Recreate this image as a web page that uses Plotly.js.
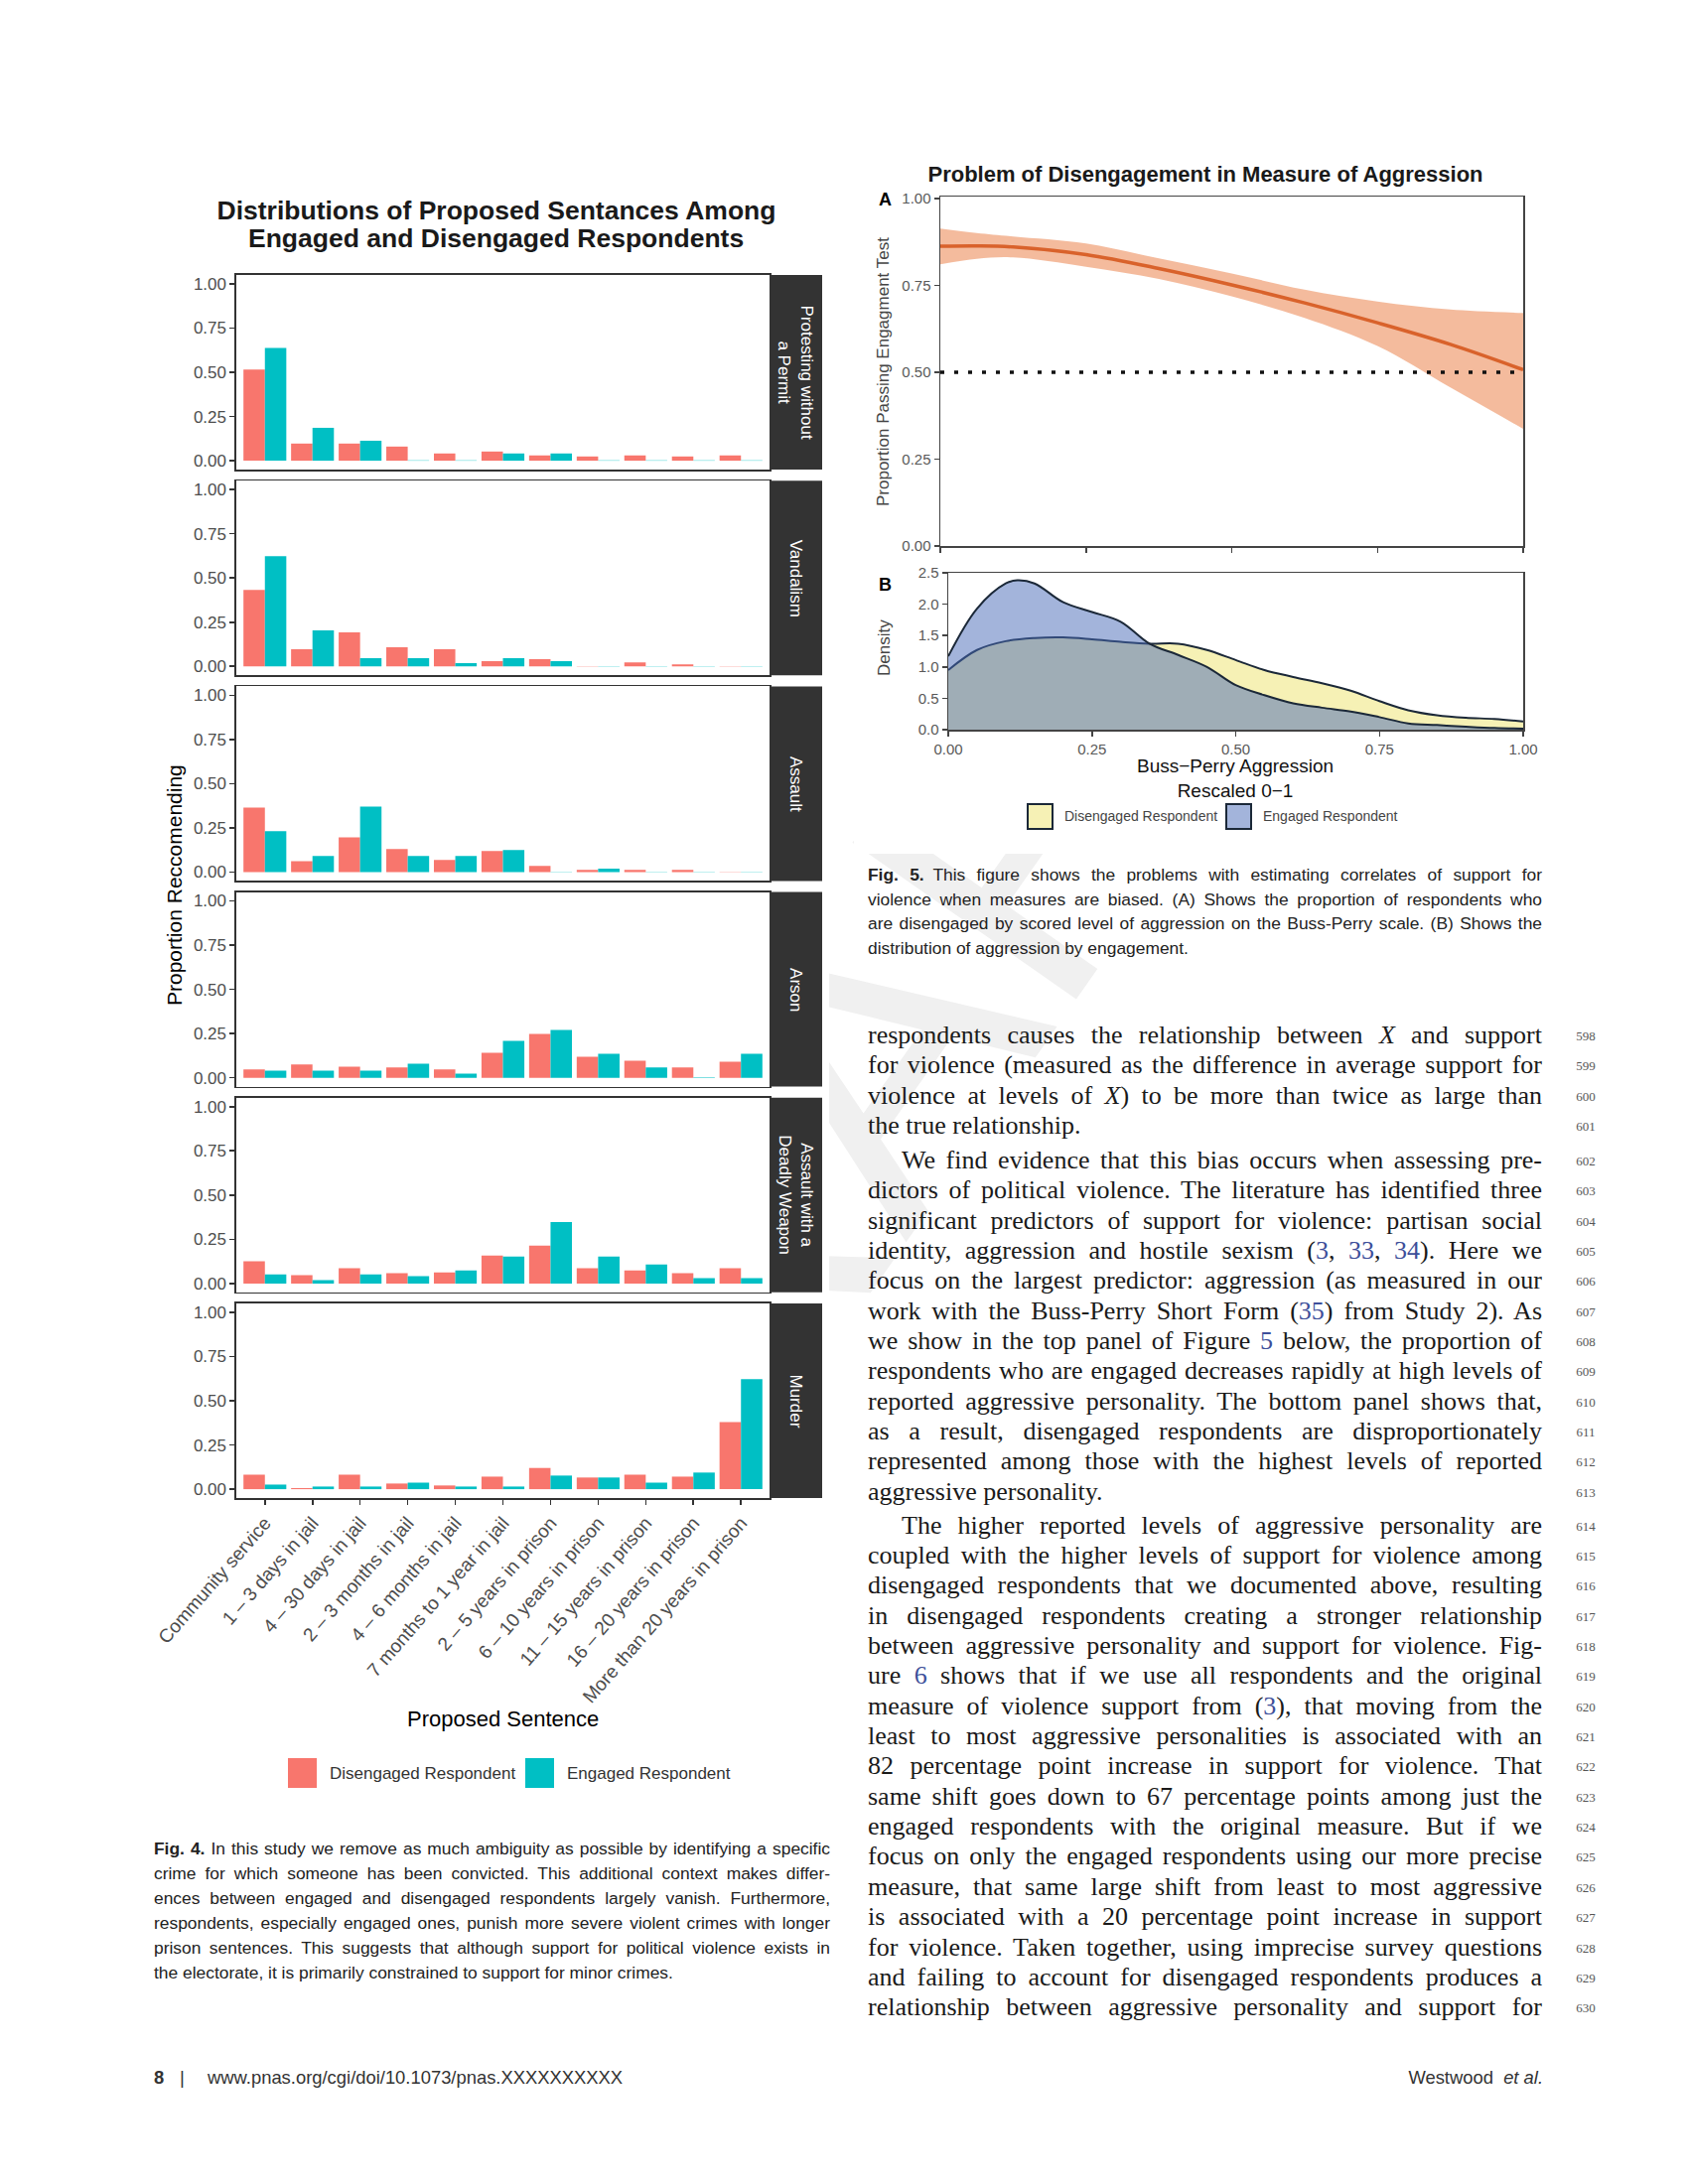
<!DOCTYPE html>
<html>
<head>
<meta charset="utf-8">
<script src="https://cdn.plot.ly/plotly-3.0.1.min.js"></script>
<style>
  body { margin: 0; background: #fff; }
  #page { position: relative; width: 1700px; height: 2200px; background: #fff; overflow: hidden; font-family: 'Liberation Sans', Arial, sans-serif; }
  #wm { position: absolute; left: 850px; top: 1100px; transform: translate(-50%, -50%) rotate(-55deg); font: normal 400px 'Liberation Sans', Arial, sans-serif; color: #f0f0f0; white-space: nowrap; z-index: 0; }
  #fig4 { position: absolute; left: 0; top: 0; width: 835px; height: 1830px; z-index: 1; }
  #fig5 { position: absolute; left: 860px; top: 140px; width: 740px; height: 720px; z-index: 1; }
  .ln { position: absolute; white-space: nowrap; z-index: 2; }
  .ln > span { display: inline-block; white-space: nowrap; }
  .body { font-family: 'Liberation Serif', 'Times New Roman', serif; font-size: 26px; color: #1a1a1a; }
  .cap { font-family: 'Liberation Sans', Arial, sans-serif; font-size: 17.4px; color: #222; }
  .num { font-family: 'Liberation Serif', serif; font-size: 13px; color: #555; text-align: center; width: 40px; }
  .ref { color: #3d4f9a; }
  .foot { font-family: 'Liberation Sans', Arial, sans-serif; font-size: 18.4px; color: #333; }
</style>
</head>
<body>
<div id="page">
  <div id="wm">DRAFT</div>
  <div id="fig4"></div>
  <div id="fig5"></div>
</div>
<script>
// ---------------- DATA: Fig. 4 ----------------
const categories = ["Community service", "1 \u2013 3 days in jail", "4 \u2013 30 days in jail", "2 \u2013 3 months in jail",
  "4 \u2013 6 months in jail", "7 months to 1 year in jail", "2 \u2013 5 years in prison", "6 \u2013 10 years in prison",
  "11 \u2013 15 years in prison", "16 \u2013 20 years in prison", "More than 20 years in prison"];
const crimeLabels = ["Protesting without<br>a Permit", "Vandalism", "Assault", "Arson", "Assault with a<br>Deadly Weapon", "Murder"];
const protestDis = [0.515, 0.097, 0.097, 0.080, 0.041, 0.052, 0.030, 0.024, 0.030, 0.024, 0.030];
const protestEng = [0.638, 0.186, 0.113, 0.002, 0.002, 0.041, 0.041, 0.002, 0.002, 0.002, 0.002];
const vandalDis  = [0.433, 0.097, 0.192, 0.108, 0.097, 0.030, 0.041, 0.002, 0.022, 0.011, 0.002];
const vandalEng  = [0.623, 0.203, 0.047, 0.047, 0.019, 0.047, 0.030, 0.002, 0.002, 0.002, 0.002];
const assaultDis = [0.365, 0.061, 0.197, 0.130, 0.069, 0.119, 0.035, 0.013, 0.013, 0.013, 0.002];
const assaultEng = [0.231, 0.091, 0.370, 0.091, 0.091, 0.125, 0.002, 0.019, 0.002, 0.002, 0.002];
const arsonDis   = [0.047, 0.075, 0.063, 0.058, 0.047, 0.142, 0.248, 0.119, 0.097, 0.058, 0.091];
const arsonEng   = [0.041, 0.041, 0.041, 0.080, 0.024, 0.209, 0.271, 0.136, 0.058, 0.002, 0.136];
const awdwDis    = [0.125, 0.047, 0.086, 0.058, 0.063, 0.158, 0.214, 0.086, 0.074, 0.058, 0.086];
const awdwEng    = [0.052, 0.019, 0.052, 0.041, 0.074, 0.153, 0.348, 0.153, 0.108, 0.030, 0.030];
const murderDis  = [0.082, 0.006, 0.082, 0.032, 0.021, 0.071, 0.120, 0.066, 0.082, 0.071, 0.380];
const murderEng  = [0.026, 0.015, 0.015, 0.037, 0.015, 0.015, 0.077, 0.066, 0.037, 0.094, 0.622];
const seriesNames = ["Disengaged Respondent", "Engaged Respondent"];
const yTicks4 = [0, 0.25, 0.5, 0.75, 1];
const yTickText4 = ["0.00", "0.25", "0.50", "0.75", "1.00"];

// ---------------- DATA: Fig. 5 ----------------
const aggrX    = [0, 0.0625, 0.125, 0.25, 0.375, 0.5, 0.625, 0.75, 0.875, 1.0];
const fitY     = [0.862, 0.863, 0.860, 0.838, 0.798, 0.751, 0.699, 0.642, 0.580, 0.507];
const upperY   = [0.913, 0.900, 0.890, 0.870, 0.827, 0.784, 0.737, 0.703, 0.680, 0.670];
const lowerY   = [0.810, 0.826, 0.830, 0.803, 0.768, 0.718, 0.656, 0.575, 0.456, 0.337];
const refLineX = [0, 1];
const refLineY = [0.5, 0.5];
const disX = [0, 0.05, 0.10, 0.15, 0.20, 0.25, 0.30, 0.35, 0.40, 0.45, 0.50, 0.55, 0.60, 0.65, 0.70, 0.75, 0.80, 0.85, 0.90, 0.95, 1.00];
const disDensity = [0.95, 1.27, 1.41, 1.46, 1.47, 1.44, 1.40, 1.37, 1.37, 1.27, 1.11, 0.95, 0.84, 0.74, 0.62, 0.455, 0.31, 0.23, 0.19, 0.17, 0.13];
const engX = [0, 0.05, 0.10, 0.12, 0.15, 0.20, 0.25, 0.30, 0.35, 0.40, 0.45, 0.50, 0.55, 0.60, 0.65, 0.70, 0.75, 0.80, 0.85, 0.90, 0.95, 1.00];
const engDensity = [1.17, 1.93, 2.33, 2.38, 2.33, 2.03, 1.875, 1.72, 1.37, 1.19, 1.00, 0.71, 0.55, 0.42, 0.35, 0.29, 0.20, 0.10, 0.074, 0.048, 0.026, 0.016];
const xTicks5 = [0, 0.25, 0.5, 0.75, 1];
const xTickText5 = ["0.00", "0.25", "0.50", "0.75", "1.00"];
const yTicksA = [0, 0.25, 0.5, 0.75, 1];
const yTickTextA = ["0.00", "0.25", "0.50", "0.75", "1.00"];
const yTicksB = [0, 0.5, 1, 1.5, 2, 2.5];
const yTickTextB = ["0.0", "0.5", "1.0", "1.5", "2.0", "2.5"];

const FONT = "'Liberation Sans', Arial, sans-serif";
const RED = "#F8766D", TEAL = "#00BFC4";

// ---------------- FIG 4 ----------------
(function () {
  const W = 835, H = 1830;
  const px = v => v / W, py = v => 1 - v / H;
  const panelData = [[protestDis, protestEng], [vandalDis, vandalEng], [assaultDis, assaultEng],
                     [arsonDis, arsonEng], [awdwDis, awdwEng], [murderDis, murderEng]];
  const traces = [], layout = {
    width: W, height: H, margin: {l: 0, r: 0, t: 0, b: 0},
    paper_bgcolor: "#fff", plot_bgcolor: "#fff", barmode: "group", bargap: 0.1, bargroupgap: 0,
    showlegend: false, font: {family: FONT},
    title: {text: "<b>Distributions of Proposed Sentances Among</b>", font: {size: 26.5, color: "#1a1a1a", family: FONT},
            x: px(500), xref: "container", xanchor: "center", y: py(212), yref: "container", yanchor: "middle"},
    shapes: [], annotations: []
  };
  const xl = 238, xr = 775, sr = 828;
  panelData.forEach((pd, i) => {
    const s = i === 0 ? "" : String(i + 1);
    const top = 277 + 207.2 * i, bot = top + 196;
    const dom = [py(bot), py(top)];
    const last = i === panelData.length - 1;
    traces.push({type: "bar", x: categories, y: pd[0], name: seriesNames[0], marker: {color: RED}, xaxis: "x" + s, yaxis: "y" + s, hoverinfo: "skip"});
    traces.push({type: "bar", x: categories, y: pd[1], name: seriesNames[1], marker: {color: TEAL}, xaxis: "x" + s, yaxis: "y" + s, hoverinfo: "skip"});
    layout["xaxis" + s] = {domain: [px(xl), px(xr)], anchor: "y" + s, type: "category", categoryorder: "array", categoryarray: categories,
      range: [-0.6, categories.length - 0.4], showline: true, mirror: true, linecolor: "#333", linewidth: 1.6,
      showgrid: false, zeroline: false, ticks: last ? "outside" : "", ticklen: 5, tickwidth: 1.6, tickcolor: "#333",
      showticklabels: last, tickangle: -49, tickfont: {size: 19, color: "#4d4d4d", family: FONT}};
    layout["yaxis" + s] = {domain: dom, anchor: "x" + s, range: [-0.05, 1.05], tickvals: yTicks4, ticktext: yTickText4,
      ticks: "outside", ticklen: 5, tickwidth: 1.6, tickcolor: "#333", showline: true, mirror: true, linecolor: "#333", linewidth: 1.6,
      showgrid: false, zeroline: false, tickfont: {size: 17, color: "#4d4d4d", family: FONT}};
    layout.shapes.push({type: "rect", xref: "paper", yref: "paper", x0: px(xr), x1: px(sr), y0: dom[0], y1: dom[1], fillcolor: "#333333", line: {width: 0}});
    layout.annotations.push({xref: "paper", yref: "paper", x: px((xr + sr) / 2), y: (dom[0] + dom[1]) / 2, text: crimeLabels[i],
      textangle: 90, showarrow: false, xanchor: "center", yanchor: "middle", font: {size: 17, color: "#fff", family: FONT}});
  });
  layout.annotations.push({xref: "paper", yref: "paper", x: px(500), y: py(240), text: "<b>Engaged and Disengaged Respondents</b>",
    showarrow: false, xanchor: "center", yanchor: "middle", font: {size: 26.5, color: "#1a1a1a", family: FONT}});
  layout.annotations.push({xref: "paper", yref: "paper", x: px(175), y: py(892), text: "Proportion Reccomending", textangle: -90,
    showarrow: false, xanchor: "center", yanchor: "middle", font: {size: 21, color: "#000", family: FONT}});
  layout.annotations.push({xref: "paper", yref: "paper", x: px(507), y: py(1731), text: "Proposed Sentence",
    showarrow: false, xanchor: "center", yanchor: "middle", font: {size: 22, color: "#000", family: FONT}});
  // legend
  const keys = [[290, RED, seriesNames[0]], [529, TEAL, seriesNames[1]]];
  keys.forEach(k => {
    layout.shapes.push({type: "rect", xref: "paper", yref: "paper", x0: px(k[0]), x1: px(k[0] + 29), y0: py(1801), y1: py(1771), fillcolor: k[1], line: {width: 0}});
    layout.annotations.push({xref: "paper", yref: "paper", x: px(k[0] + 40), y: py(1786), text: k[2], showarrow: false,
      xanchor: "left", yanchor: "middle", font: {size: 17, color: "#333", family: FONT}});
  });
  Plotly.newPlot("fig4", traces, layout, {staticPlot: true, displayModeBar: false});
})();

// ---------------- FIG 5 ----------------
(function () {
  const L = 860, T = 140, W = 740, H = 720;
  const px = v => (v - L) / W, py = v => 1 - (v - T) / H;
  const tf = {size: 15, color: "#595959", family: FONT};
  const traces = [
    {x: aggrX, y: lowerY, mode: "lines", line: {width: 0, shape: "spline"}, xaxis: "x", yaxis: "y", hoverinfo: "skip", name: "lower"},
    {x: aggrX, y: upperY, mode: "lines", line: {width: 0, shape: "spline"}, fill: "tonexty", fillcolor: "rgba(234,120,60,0.5)", xaxis: "x", yaxis: "y", hoverinfo: "skip", name: "upper"},
    {x: refLineX, y: refLineY, mode: "lines", line: {color: "#111", width: 3.5, dash: "4px,10px"}, xaxis: "x", yaxis: "y", hoverinfo: "skip", name: "0.5"},
    {x: aggrX, y: fitY, mode: "lines", line: {color: "#D9622B", width: 3.5, shape: "spline"}, xaxis: "x", yaxis: "y", hoverinfo: "skip", name: "fit"},
    {x: disX, y: disDensity, mode: "lines", fill: "tozeroy", fillcolor: "rgba(237,227,107,0.5)", line: {color: "#1B2838", width: 2, shape: "spline"}, xaxis: "x2", yaxis: "y2", name: "Disengaged Respondent", hoverinfo: "skip"},
    {x: engX, y: engDensity, mode: "lines", fill: "tozeroy", fillcolor: "rgba(71,105,183,0.5)", line: {color: "#1B2838", width: 2, shape: "spline"}, xaxis: "x2", yaxis: "y2", name: "Engaged Respondent", hoverinfo: "skip"}
  ];
  const axBase = {showline: true, mirror: true, linecolor: "#444", linewidth: 1.5, showgrid: false, zeroline: false,
    ticks: "outside", ticklen: 5, tickwidth: 1.5, tickcolor: "#444", tickfont: tf};
  const layout = {
    width: W, height: H, margin: {l: 0, r: 0, t: 0, b: 0}, paper_bgcolor: "#fff", plot_bgcolor: "#fff", showlegend: false,
    font: {family: FONT},
    title: {text: "<b>Problem of Disengagement in Measure of Aggression</b>", font: {size: 22, color: "#1a1a1a", family: FONT},
            x: px(1214), xref: "container", xanchor: "center", y: py(175), yref: "container", yanchor: "middle"},
    xaxis: Object.assign({}, axBase, {domain: [px(947), px(1534)], anchor: "y", range: [0, 1], tickvals: xTicks5, showticklabels: false}),
    yaxis: Object.assign({}, axBase, {domain: [py(550), py(198)], anchor: "x", range: [0, 1.005], tickvals: yTicksA, ticktext: yTickTextA}),
    xaxis2: Object.assign({}, axBase, {domain: [px(955), px(1534)], anchor: "y2", range: [0, 1], tickvals: xTicks5, ticktext: xTickText5}),
    yaxis2: Object.assign({}, axBase, {domain: [py(735), py(577)], anchor: "x2", range: [0, 2.5], tickvals: yTicksB, ticktext: yTickTextB}),
    shapes: [], annotations: [
      {xref: "paper", yref: "paper", x: px(891), y: py(201), text: "<b>A</b>", showarrow: false, xanchor: "center", yanchor: "middle", font: {size: 18, color: "#000", family: FONT}},
      {xref: "paper", yref: "paper", x: px(891), y: py(589), text: "<b>B</b>", showarrow: false, xanchor: "center", yanchor: "middle", font: {size: 18, color: "#000", family: FONT}},
      {xref: "paper", yref: "paper", x: px(890), y: py(375), text: "Proportion Passing Engagment Test", textangle: -90, showarrow: false, xanchor: "center", yanchor: "middle", font: {size: 17, color: "#444", family: FONT}},
      {xref: "paper", yref: "paper", x: px(890), y: py(653), text: "Density", textangle: -90, showarrow: false, xanchor: "center", yanchor: "middle", font: {size: 17, color: "#444", family: FONT}},
      {xref: "paper", yref: "paper", x: px(1244), y: py(784), text: "Buss\u2212Perry Aggression<br>Rescaled 0\u22121", showarrow: false, xanchor: "center", yanchor: "middle", font: {size: 19, color: "#111", family: FONT}}
    ]
  };
  const keys = [[1035, "rgba(237,227,107,0.5)", "Disengaged Respondent"], [1235, "rgba(71,105,183,0.5)", "Engaged Respondent"]];
  keys.forEach(k => {
    layout.shapes.push({type: "rect", xref: "paper", yref: "paper", x0: px(k[0]), x1: px(k[0] + 25), y0: py(835), y1: py(810), fillcolor: k[1], line: {color: "#1B2838", width: 2}});
    layout.annotations.push({xref: "paper", yref: "paper", x: px(k[0] + 35), y: py(822), text: k[2], showarrow: false, xanchor: "left", yanchor: "middle", font: {size: 14, color: "#444", family: FONT}});
  });
  Plotly.newPlot("fig5", traces, layout, {staticPlot: true, displayModeBar: false});
})();

// ---------------- TEXT ----------------
const page = document.getElementById("page");
const toJustify = [];
function addLine(cls, html, left, yc, lh, width, justify) {
  const d = document.createElement("div");
  d.className = "ln " + cls;
  d.style.left = left + "px";
  d.style.top = (yc - lh / 2) + "px";
  d.style.lineHeight = lh + "px";
  d.style.height = lh + "px";
  const s = document.createElement("span");
  s.innerHTML = html;
  d.appendChild(s);
  page.appendChild(d);
  if (justify) toJustify.push([s, width]);
  return d;
}
const R = t => '<span class="ref">' + t + '</span>';
const bodyLines = [
  ["respondents causes the relationship between <i>X</i> and support", 0, 1],
  ["for violence (measured as the difference in average support for", 0, 1],
  ["violence at levels of <i>X</i>) to be more than twice as large than", 0, 1],
  ["the true relationship.", 0, 0],
  ["We find evidence that this bias occurs when assessing pre-", 1, 1],
  ["dictors of political violence. The literature has identified three", 0, 1],
  ["significant predictors of support for violence: partisan social", 0, 1],
  ["identity, aggression and hostile sexism (" + R("3") + ", " + R("33") + ", " + R("34") + "). Here we", 0, 1],
  ["focus on the largest predictor: aggression (as measured in our", 0, 1],
  ["work with the Buss-Perry Short Form (" + R("35") + ") from Study 2). As", 0, 1],
  ["we show in the top panel of Figure " + R("5") + " below, the proportion of", 0, 1],
  ["respondents who are engaged decreases rapidly at high levels of", 0, 1],
  ["reported aggressive personality. The bottom panel shows that,", 0, 1],
  ["as a result, disengaged respondents are disproportionately", 0, 1],
  ["represented among those with the highest levels of reported", 0, 1],
  ["aggressive personality.", 0, 0],
  ["The higher reported levels of aggressive personality are", 1, 1],
  ["coupled with the higher levels of support for violence among", 0, 1],
  ["disengaged respondents that we documented above, resulting", 0, 1],
  ["in disengaged respondents creating a stronger relationship", 0, 1],
  ["between aggressive personality and support for violence. Fig-", 0, 1],
  ["ure " + R("6") + " shows that if we use all respondents and the original", 0, 1],
  ["measure of violence support from (" + R("3") + "), that moving from the", 0, 1],
  ["least to most aggressive personalities is associated with an", 0, 1],
  ["82 percentage point increase in support for violence. That", 0, 1],
  ["same shift goes down to 67 percentage points among just the", 0, 1],
  ["engaged respondents with the original measure. But if we", 0, 1],
  ["focus on only the engaged respondents using our more precise", 0, 1],
  ["measure, that same large shift from least to most aggressive", 0, 1],
  ["is associated with a 20 percentage point increase in support", 0, 1],
  ["for violence. Taken together, using imprecise survey questions", 0, 1],
  ["and failing to account for disengaged respondents produces a", 0, 1],
  ["relationship between aggressive personality and support for", 0, 1]
];
let y = 1043;
bodyLines.forEach((b, i) => {
  if (i === 4) y += 4.5;
  if (i === 16) y += 3.5;
  const left = b[1] ? 908 : 874;
  addLine("body", b[0], left, y, 30, 1553 - left, b[2]);
  addLine("num", String(598 + i), 1577, y + 1, 30, 0, 0);
  y += 30.35;
});

const cap4 = [
  "<b>Fig. 4.</b> In this study we remove as much ambiguity as possible by identifying a specific",
  "crime for which someone has been convicted. This additional context makes differ-",
  "ences between engaged and disengaged respondents largely vanish. Furthermore,",
  "respondents, especially engaged ones, punish more severe violent crimes with longer",
  "prison sentences. This suggests that although support for political violence exists in",
  "the electorate, it is primarily constrained to support for minor crimes."
];
cap4.forEach((t, i) => addLine("cap", t, 155, 1862 + 25 * i, 24, 681, i < cap4.length - 1));

const cap5 = [
  "<b>Fig. 5.</b>&ensp;This figure shows the problems with estimating correlates of support for",
  "violence when measures are biased. (A) Shows the proportion of respondents who",
  "are disengaged by scored level of aggression on the Buss-Perry scale. (B) Shows the",
  "distribution of aggression by engagement."
];
cap5.forEach((t, i) => addLine("cap", t, 874, 881 + 24.6 * i, 24, 679, i < cap5.length - 1));

addLine("foot", "<b>8</b>", 155, 2093, 22, 0, 0);
addLine("foot", "|", 181, 2093, 22, 0, 0);
addLine("foot", "www.pnas.org/cgi/doi/10.1073/pnas.XXXXXXXXXX", 209, 2093, 22, 0, 0);
const wd = addLine("foot", "Westwood&nbsp;&nbsp;<i>et al.</i>", 0, 2093, 22, 0, 0);

function finish() {
  toJustify.forEach(([s, w]) => {
    s.style.wordSpacing = "0px";
    const nat = s.getBoundingClientRect().width;
    const n = (s.textContent.match(/ /g) || []).length;
    if (n > 0) s.style.wordSpacing = ((w - nat) / n) + "px";
  });
  const ww = wd.firstChild.getBoundingClientRect().width;
  wd.style.left = (1554 - ww) + "px";
}
finish();
if (document.fonts && document.fonts.ready) document.fonts.ready.then(finish);
</script>
</body>
</html>
